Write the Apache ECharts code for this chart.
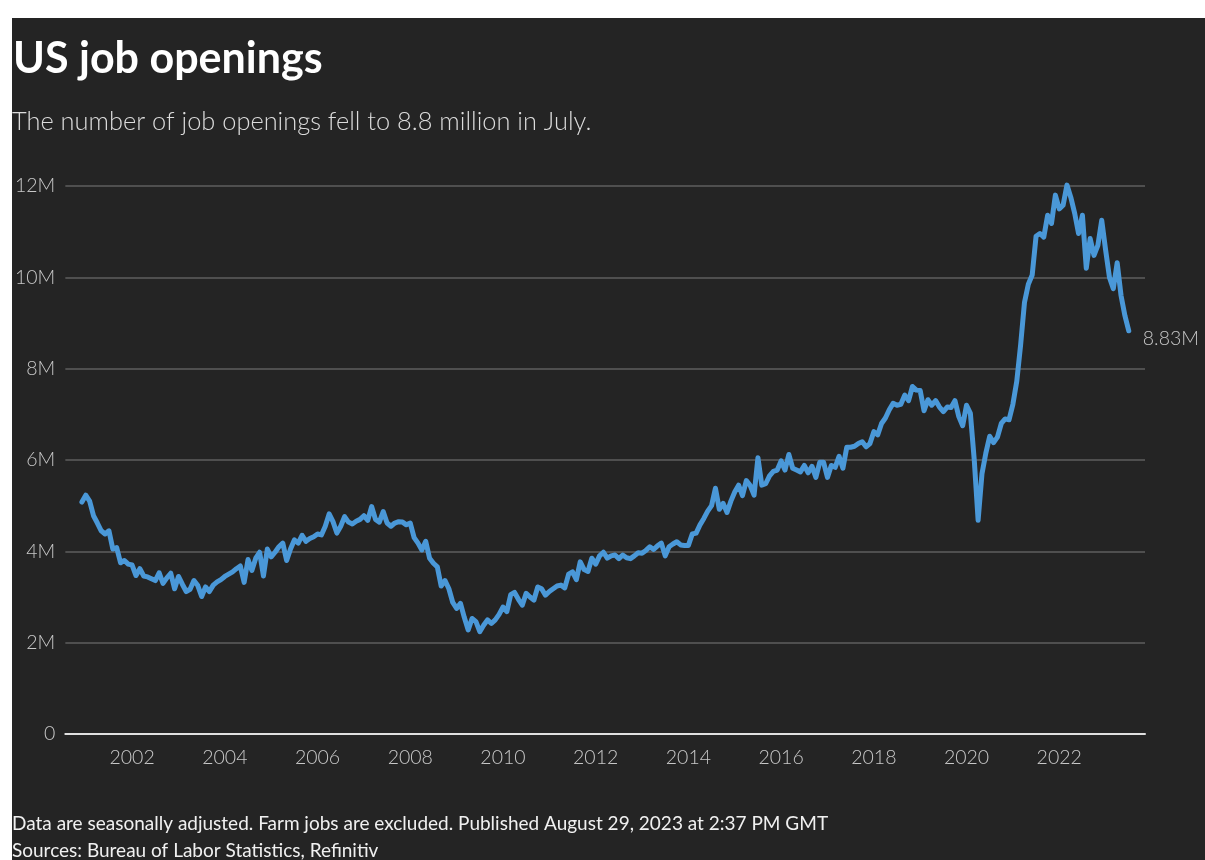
<!DOCTYPE html>
<html>
<head>
<meta charset="utf-8">
<title>US job openings</title>
<script src="https://cdn.jsdelivr.net/npm/echarts@6/dist/echarts.min.js"></script>
<style>
  html, body { margin: 0; padding: 0; background: #ffffff; }
  #chart { position: absolute; left: 12px; top: 18px; width: 1193px; height: 842px; }
</style>
</head>
<body>
<div id="chart"></div>
<script>
// Monthly job openings (millions, seasonally adjusted), Dec 2000 – Jul 2023
const firstYear = 2000;
const firstMonth = 12;
const openings = [
  5.08,                                                                   // 2000 Dec
  5.23, 5.10, 4.78, 4.62, 4.45, 4.38, 4.45, 4.05, 4.08, 3.75, 3.80, 3.72, // 2001
  3.70, 3.47, 3.62, 3.46, 3.44, 3.40, 3.36, 3.53, 3.30, 3.42, 3.52, 3.18, // 2002
  3.45, 3.28, 3.12, 3.17, 3.36, 3.25, 3.01, 3.22, 3.12, 3.26, 3.33, 3.38, // 2003
  3.45, 3.50, 3.55, 3.62, 3.68, 3.32, 3.82, 3.58, 3.85, 3.98, 3.46, 4.05, // 2004
  3.88, 3.98, 4.10, 4.18, 3.80, 4.05, 4.25, 4.18, 4.35, 4.22, 4.28, 4.32, // 2005
  4.38, 4.36, 4.55, 4.82, 4.65, 4.40, 4.55, 4.76, 4.64, 4.60, 4.66, 4.70, // 2006
  4.78, 4.68, 4.98, 4.70, 4.64, 4.87, 4.62, 4.55, 4.62, 4.65, 4.64, 4.58, // 2007
  4.62, 4.30, 4.18, 4.03, 4.22, 3.85, 3.74, 3.66, 3.24, 3.36, 3.18, 2.88, // 2008
  2.75, 2.86, 2.55, 2.28, 2.53, 2.46, 2.24, 2.38, 2.50, 2.42, 2.50, 2.62, // 2009
  2.78, 2.68, 3.05, 3.10, 2.95, 2.82, 3.08, 3.00, 2.93, 3.22, 3.18, 3.04, // 2010
  3.12, 3.18, 3.24, 3.26, 3.20, 3.50, 3.55, 3.38, 3.77, 3.60, 3.56, 3.85, // 2011
  3.72, 3.90, 3.98, 3.85, 3.90, 3.92, 3.84, 3.92, 3.86, 3.84, 3.90, 3.97, // 2012
  3.96, 4.02, 4.10, 4.04, 4.12, 4.18, 3.90, 4.10, 4.16, 4.21, 4.14, 4.13, // 2013
  4.13, 4.38, 4.40, 4.58, 4.72, 4.88, 5.00, 5.38, 4.92, 5.05, 4.85, 5.10, // 2014
  5.30, 5.45, 5.22, 5.55, 5.44, 5.23, 6.05, 5.45, 5.48, 5.65, 5.75, 5.78, // 2015
  5.98, 5.78, 6.12, 5.82, 5.78, 5.74, 5.88, 5.72, 5.86, 5.62, 5.95, 5.95, // 2016
  5.62, 5.88, 5.84, 6.08, 5.82, 6.28, 6.28, 6.30, 6.36, 6.40, 6.29, 6.36, // 2017
  6.62, 6.55, 6.80, 6.92, 7.10, 7.24, 7.20, 7.22, 7.42, 7.30, 7.61, 7.53, // 2018
  7.52, 7.08, 7.32, 7.20, 7.30, 7.16, 7.06, 7.16, 7.15, 7.30, 6.95, 6.75, // 2019
  7.20, 7.02, 6.00, 4.68, 5.70, 6.15, 6.52, 6.38, 6.50, 6.80, 6.90, 6.88, // 2020
  7.22, 7.72, 8.52, 9.45, 9.85, 10.05, 10.90, 10.96, 10.88, 11.36, 11.18, 11.80, // 2021
  11.50, 11.58, 12.02, 11.75, 11.40, 10.96, 11.36, 10.20, 10.85, 10.48, 10.70, 11.25, // 2022
  10.60, 10.00, 9.75, 10.32, 9.60, 9.16, 8.83                              // 2023
];

const yearLabels = [2002, 2004, 2006, 2008, 2010, 2012, 2014, 2016, 2018, 2020, 2022];
const yTicks = { min: 0, max: 12, step: 2 };

const titleText = 'US job openings';
const subtitleText = 'The number of job openings fell to 8.8 million in July.';
const noteText = 'Data are seasonally adjusted. Farm jobs are excluded. Published August 29, 2023 at 2:37 PM GMT';
const sourceText = 'Sources: Bureau of Labor Statistics, Refinitiv';

// Place each month on a decimal-year scale
const points = openings.map((v, i) => {
  const monthIndex = (firstMonth - 1) + i;
  return [firstYear + monthIndex / 12, v];
});

const FONT = 'Lato, "Noto Sans", sans-serif';
const chart = echarts.init(document.getElementById('chart'), null, { renderer: 'canvas' });

chart.setOption({
  animation: false,
  backgroundColor: '#242424',
  title: [
    {
      text: titleText, left: 1, top: 20, padding: 0,
      textStyle: { color: '#ffffff', fontFamily: FONT, fontWeight: 'bold', fontSize: 43 }
    },
    {
      text: subtitleText, left: 0, top: 91, padding: 0,
      textStyle: { color: '#dcdcdc', fontFamily: FONT, fontWeight: 300, fontSize: 25.4 }
    },
    {
      text: noteText, left: 0, top: 796, padding: 0,
      textStyle: { color: '#f0f0f0', fontFamily: FONT, fontWeight: 'normal', fontSize: 19 }
    },
    {
      text: sourceText, left: 0, top: 823, padding: 0,
      textStyle: { color: '#f0f0f0', fontFamily: FONT, fontWeight: 'normal', fontSize: 19 }
    }
  ],
  grid: { left: 50, right: 60, top: 168, bottom: 126, containLabel: false },
  xAxis: {
    type: 'value',
    min: 2000.559,
    max: 2023.85,
    axisLine: { show: true, onZero: true, lineStyle: { color: '#e0e0e0', width: 2 } },
    axisTick: { show: false },
    splitLine: { show: false },
    axisLabel: {
      customValues: yearLabels,
      formatter: v => String(Math.round(v)),
      color: '#c8c8c8', fontFamily: FONT, fontSize: 19.5, fontWeight: 300, margin: 14
    }
  },
  yAxis: {
    type: 'value',
    min: yTicks.min,
    max: yTicks.max,
    interval: yTicks.step,
    axisLine: { show: false },
    axisTick: { show: false },
    splitLine: { show: true, lineStyle: { color: '#5e5e5e', width: 1.5 } },
    axisLabel: {
      formatter: v => (v === 0 ? '0' : v + 'M'),
      color: '#c8c8c8', fontFamily: FONT, fontSize: 19.5, fontWeight: 300, margin: 10
    }
  },
  series: [{
    type: 'line',
    data: points,
    symbol: 'none',
    clip: false,
    lineStyle: { color: '#4a98d8', width: 5, join: 'round', cap: 'round' },
    endLabel: {
      show: true,
      formatter: p => p.value[1].toFixed(2) + 'M',
      color: '#c8c8c8', fontFamily: FONT, fontSize: 19.5, fontWeight: 300,
      distance: 14, offset: [0, 8]
    }
  }]
});
</script>
</body>
</html>
